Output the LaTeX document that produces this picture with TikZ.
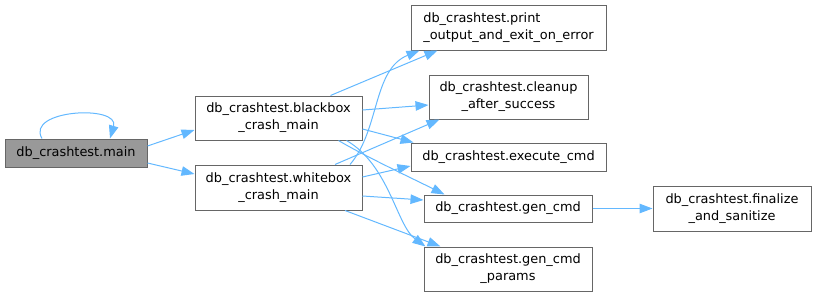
\documentclass[tikz,border=0pt]{standalone}
\usepackage{fontspec}
\setmainfont{DejaVu Sans}
\usetikzlibrary{arrows.meta,calc}

\definecolor{edgeblue}{HTML}{63B8FF}
\definecolor{boxgray}{HTML}{666666}
\definecolor{maingray}{HTML}{999999}

\begin{document}
\begin{tikzpicture}[x=1pt, y=-1pt,
    fn/.style={draw=boxgray, line width=1pt, inner sep=0pt, align=center,
        font=\fontsize{12.9}{17}\selectfont},
    call/.style={draw=edgeblue, line width=1pt, -{Triangle[length=13pt,width=9.5pt]}}]
        \useasboundingbox (0,0) rectangle (816,297);

        % Nodes
        \node (main) [fn, fill=maingray, minimum width=142pt, minimum height=28pt] at (76,153) {db\_crashtest.main};
        \node (black) [fn, minimum width=167pt, minimum height=44pt] at (278.5,118) {db\_crashtest.blackbox\\\_crash\_main};
        \node (white) [fn, minimum width=167pt, minimum height=45pt] at (278.5,187.5) {db\_crashtest.whitebox\\\_crash\_main};
        \node (print) [fn, align=left, minimum width=195pt, minimum height=45pt] at (508.5,27.5) {db\_crashtest.print\\\_output\_and\_exit\_on\_error};
        \node (cleanup) [fn, minimum width=159pt, minimum height=44pt] at (508.5,97) {db\_crashtest.cleanup\\\_after\_success};
        \node (execute) [fn, minimum width=195pt, minimum height=28pt] at (508.5,157) {db\_crashtest.execute\_cmd};
        \node (gencmd) [fn, minimum width=168pt, minimum height=27pt] at (508,208.5) {db\_crashtest.gen\_cmd};
        \node (params) [fn, minimum width=168pt, minimum height=44pt] at (508,269) {db\_crashtest.gen\_cmd\\\_params};
        \node (finalize) [fn, minimum width=158pt, minimum height=45pt] at (732,208.5) {db\_crashtest.finalize\\\_and\_sanitize};

        % Edges
        \draw[call] ($(main.north)+(-34,0)$) .. controls +(-17,-29) and +(10,-34) .. ($(main.north)+(34,0)$);
        \draw[call] ($(main.east)+(0,-7)$) -- ($(black.west)+(0,12)$);
        \draw[call] ($(main.east)+(0,10)$) -- ($(white.west)+(0,-13.5)$);

        \draw[call] ($(black.north)+(52,0)$) -- ($(print.south west)+(27,0)$);
        \draw[call] ($(black.east)+(0,-8)$) -- ($(cleanup.west)+(0,8)$);
        \draw[call] ($(black.east)+(0,11)$) -- ($(execute.north west)+(3,0)$);
        \draw[call] ($(black.south)+(60,0)$) .. controls +(25,15) and +(-30,-15) .. ($(gencmd.north west)+(21,0)$);
        \draw[call] ($(black.south)+(68,0)$) .. controls +(43,25) and +(-29,-21) .. ($(params.north west)+(2,0)$);

        \draw[call] ($(white.north)+(71.5,0)$) .. controls +(30,-35) and +(-47,19) .. ($(print.south west)+(9,0)$);
        \draw[call] ($(white.north)+(56.5,0)$) -- ($(cleanup.south west)+(11,0)$);
        \draw[call] ($(white.east)+(0,-10.5)$) -- ($(execute.west)+(0,9)$);
        \draw[call] ($(white.east)+(0,8.5)$) -- ($(gencmd.west)+(0,-8.5)$);
        \draw[call] ($(white.south)+(66.5,0)$) -- ($(params.north west)+(17,0)$);

        \draw[call] (gencmd) -- (finalize);
    \end{tikzpicture}
\end{document}
